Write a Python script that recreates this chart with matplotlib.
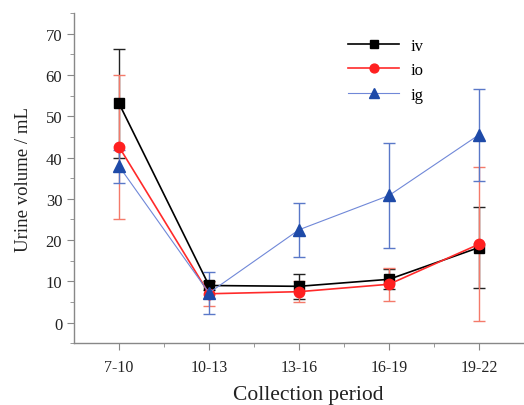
import matplotlib
matplotlib.use("Agg")
import matplotlib.pyplot as plt
from matplotlib.ticker import MultipleLocator, FixedLocator

plt.rcParams['font.family'] = ['Liberation Serif', 'DejaVu Serif']

categories = ["7-10", "10-13", "13-16", "16-19", "19-22"]
iv_mean = [53.1, 9.0, 8.8, 10.5, 18.2]
iv_err = [13.2, 1.0, 3.0, 2.4, 9.8]
io_mean = [42.6, 7.0, 7.5, 9.3, 19.0]
io_err = [17.5, 2.9, 2.5, 4.0, 18.6]
ig_mean = [37.9, 7.2, 22.5, 30.8, 45.5]
ig_err = [4.0, 5.0, 6.5, 12.6, 11.1]

x = list(range(1, len(categories) + 1))

fig = plt.figure(figsize=(5.24, 4.06), dpi=100)
ax = fig.add_axes([74/524, 1 - 344.3/406, 1 - 74/524, (344.3 - 14)/406])

series = [
    ("iv", iv_mean, iv_err, "black", "#222222", "black", "s", 1.2, 6.5),
    ("io", io_mean, io_err, "#ff2a2a", "#f47a6a", "#ff2020", "o", 1.2, 7.5),
    ("ig", ig_mean, ig_err, "#7088d8", "#5a78c8", "#1e4aa8", "^", 0.8, 8),
]
handles = []
for name, m, e, lc, ec, mc, mk, lw, ms in series:
    ax.errorbar(x, m, yerr=e, fmt='none', ecolor=ec, elinewidth=1.0,
                capsize=4, capthick=1.0, zorder=2)
    h, = ax.plot(x, m, color=lc, lw=lw, marker=mk, markersize=ms,
                 markerfacecolor=mc, markeredgecolor=mc, label=name, zorder=3)
    handles.append(h)

ax.set_xlim(0.5, 5.5)
ax.set_ylim(-5, 75)
ax.xaxis.set_major_locator(FixedLocator(x))
ax.set_xticklabels(categories)
ax.xaxis.set_minor_locator(FixedLocator([1.5, 2.5, 3.5, 4.5]))
ax.yaxis.set_major_locator(FixedLocator([0, 10, 20, 30, 40, 50, 60, 70]))
ax.yaxis.set_minor_locator(MultipleLocator(5))

for s in ['top', 'right']:
    ax.spines[s].set_visible(False)
for s in ['left', 'bottom']:
    ax.spines[s].set_color('#888888')
    ax.spines[s].set_linewidth(1.0)
ax.tick_params(which='both', direction='out', color='#888888', labelcolor='#222222')
ax.tick_params(axis='y', labelsize=12)
ax.tick_params(axis='x', labelsize=11.5, pad=6)
ax.tick_params(which='major', length=5)
ax.tick_params(which='minor', length=3)

ax.set_ylabel("Urine volume / mL", fontsize=13.5, labelpad=10, color='#222222')
ax.set_xlabel("Collection period", fontsize=15.5, color='#222222')
ax.xaxis.set_label_coords(0.52, -0.125)

ax.legend(handles=handles, frameon=False, loc='upper left',
          bbox_to_anchor=(0.575, 0.97), fontsize=12, handlelength=3.1,
          labelspacing=0.5, handletextpad=0.7, markerscale=0.85)

fig.savefig("out.png", dpi=100)
